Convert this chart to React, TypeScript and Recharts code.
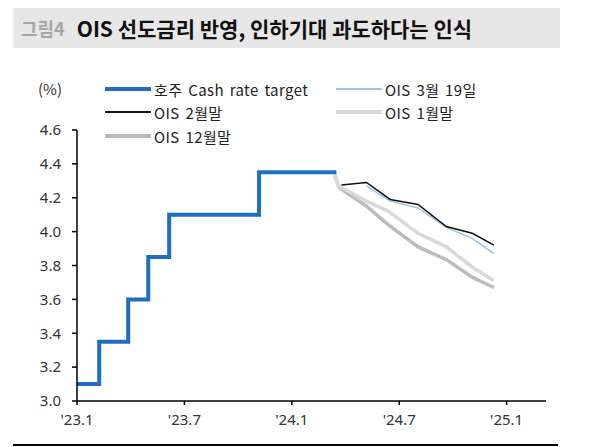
import { Line, LineChart, XAxis, YAxis } from "recharts";

// x = months since Jan 2023 ('23.1 = 0)
const cashRateMonths = [0, 1.24, 2.86, 3.98, 5.15, 10.17, 14.49];
const cashRateValues = [3.1, 3.35, 3.6, 3.85, 4.1, 4.35, 4.35];

const oisMar19Months = [16.17, 17.5, 19.05, 20.63, 22.08, 23.29];
const oisMar19Values = [4.27, 4.18, 4.14, 4.025, 3.96, 3.87];

const oisFebMonths = [14.77, 16.17, 17.5, 19.05, 20.63, 22.08, 23.29];
const oisFebValues = [4.275, 4.29, 4.19, 4.16, 4.03, 3.99, 3.92];

const oisJanMonths = [14.4, 14.6, 16.17, 17.4, 19.05, 20.63, 22.1, 23.29];
const oisJanValues = [4.34, 4.27, 4.18, 4.12, 3.99, 3.91, 3.79, 3.71];

const oisDecMonths = [14.4, 14.65, 16.17, 17.4, 19.05, 20.63, 22.1, 23.29];
const oisDecValues = [4.33, 4.26, 4.15, 4.04, 3.91, 3.835, 3.73, 3.67];

const xTicks = [0, 6, 12, 18, 24];
const xTickLabels = ["'23.1", "'23.7", "'24.1", "'24.7", "'25.1"];
const yTicks = [3.0, 3.2, 3.4, 3.6, 3.8, 4.0, 4.2, 4.4, 4.6];

const toPoints = (xs: number[], ys: number[]) =>
  xs.map((m, i) => ({ m, v: ys[i] }));

const series = [
  { name: "호주 Cash rate target", color: "#1f6fc1", width: 4, data: toPoints(cashRateMonths, cashRateValues) },
  { name: "OIS 3월 19일", color: "#9dc3e6", width: 1.5, data: toPoints(oisMar19Months, oisMar19Values) },
  { name: "OIS 2월말", color: "#111111", width: 1.5, data: toPoints(oisFebMonths, oisFebValues) },
  { name: "OIS 1월말", color: "#d9d9d9", width: 3.5, data: toPoints(oisJanMonths, oisJanValues) },
  { name: "OIS 12월말", color: "#bcbcbc", width: 3.5, data: toPoints(oisDecMonths, oisDecValues) },
];

const FONT = "'Noto Sans CJK KR', 'Noto Sans', sans-serif";
const NUM_FONT = "'Noto Sans', 'Noto Sans CJK KR', sans-serif";

function LegendItem({ s, left, top }: { s: (typeof series)[number]; left: number; top: number }) {
  return (
    <div style={{ position: "absolute", left, top, display: "flex", alignItems: "center", height: 20 }}>
      <div style={{ width: 46, height: s.width, background: s.color, marginRight: 3 }} />
      <span style={{ fontSize: 15, letterSpacing: 0.4, wordSpacing: 2, color: "#222" }}>{s.name}</span>
    </div>
  );
}

export default function App() {
  // draw greys first so the thin lines and the policy rate sit on top
  const drawOrder = [series[4], series[3], series[1], series[2], series[0]];
  return (
    <div style={{ position: "absolute", left: 0, top: 0, width: 596, height: 447, background: "#fff", fontFamily: FONT }}>
      <div
        style={{
          position: "absolute",
          left: 13,
          top: 8,
          width: 547,
          height: 40,
          background: "#e7e7e7",
          display: "flex",
          alignItems: "center",
          paddingLeft: 8,
          boxSizing: "border-box",
          fontWeight: 700,
        }}
      >
        <span style={{ color: "#a6a6a6", fontSize: 18, marginRight: 12 }}>그림4</span>
        <span style={{ color: "#111", fontSize: 21 }}>OIS 선도금리 반영, 인하기대 과도하다는 인식</span>
      </div>

      <div style={{ position: "absolute", left: 38, top: 78, fontSize: 15, color: "#333" }}>(%)</div>
      <LegendItem s={series[0]} left={105} top={79} />
      <LegendItem s={series[1]} left={336} top={79} />
      <LegendItem s={series[2]} left={105} top={102} />
      <LegendItem s={series[3]} left={336} top={102} />
      <LegendItem s={series[4]} left={105} top={126} />

      <div style={{ position: "absolute", left: 0, top: 0 }}>
        <LineChart width={596} height={447} margin={{ top: 130, right: 50, left: 0, bottom: 16 }}>
          <XAxis
            type="number"
            dataKey="m"
            domain={[0, 26.2]}
            ticks={xTicks}
            tickFormatter={(v: number) => xTickLabels[xTicks.indexOf(v)]}
            allowDataOverflow
            height={30}
            stroke="#000"
            strokeWidth={1.5}
            tickSize={4}
            tick={{ fill: "#333", fontSize: 15, fontFamily: NUM_FONT }}
            tickMargin={9}
          />
          <YAxis
            type="number"
            domain={[3.0, 4.6]}
            ticks={yTicks}
            tickFormatter={(v: number) => v.toFixed(1)}
            width={77}
            stroke="#000"
            strokeWidth={1.5}
            tickSize={5}
            tickMargin={11}
            tick={{ fill: "#333", fontSize: 15, fontFamily: NUM_FONT }}
          />
          {drawOrder.map((s) => (
            <Line
              key={s.name}
              data={s.data}
              dataKey="v"
              type={s === series[0] ? "stepAfter" : "linear"}
              stroke={s.color}
              strokeWidth={s.width}
              dot={false}
              isAnimationActive={false}
            />
          ))}
        </LineChart>
      </div>

      <div style={{ position: "absolute", left: 13, top: 444, width: 545, height: 1.5, background: "#000" }} />
    </div>
  );
}
